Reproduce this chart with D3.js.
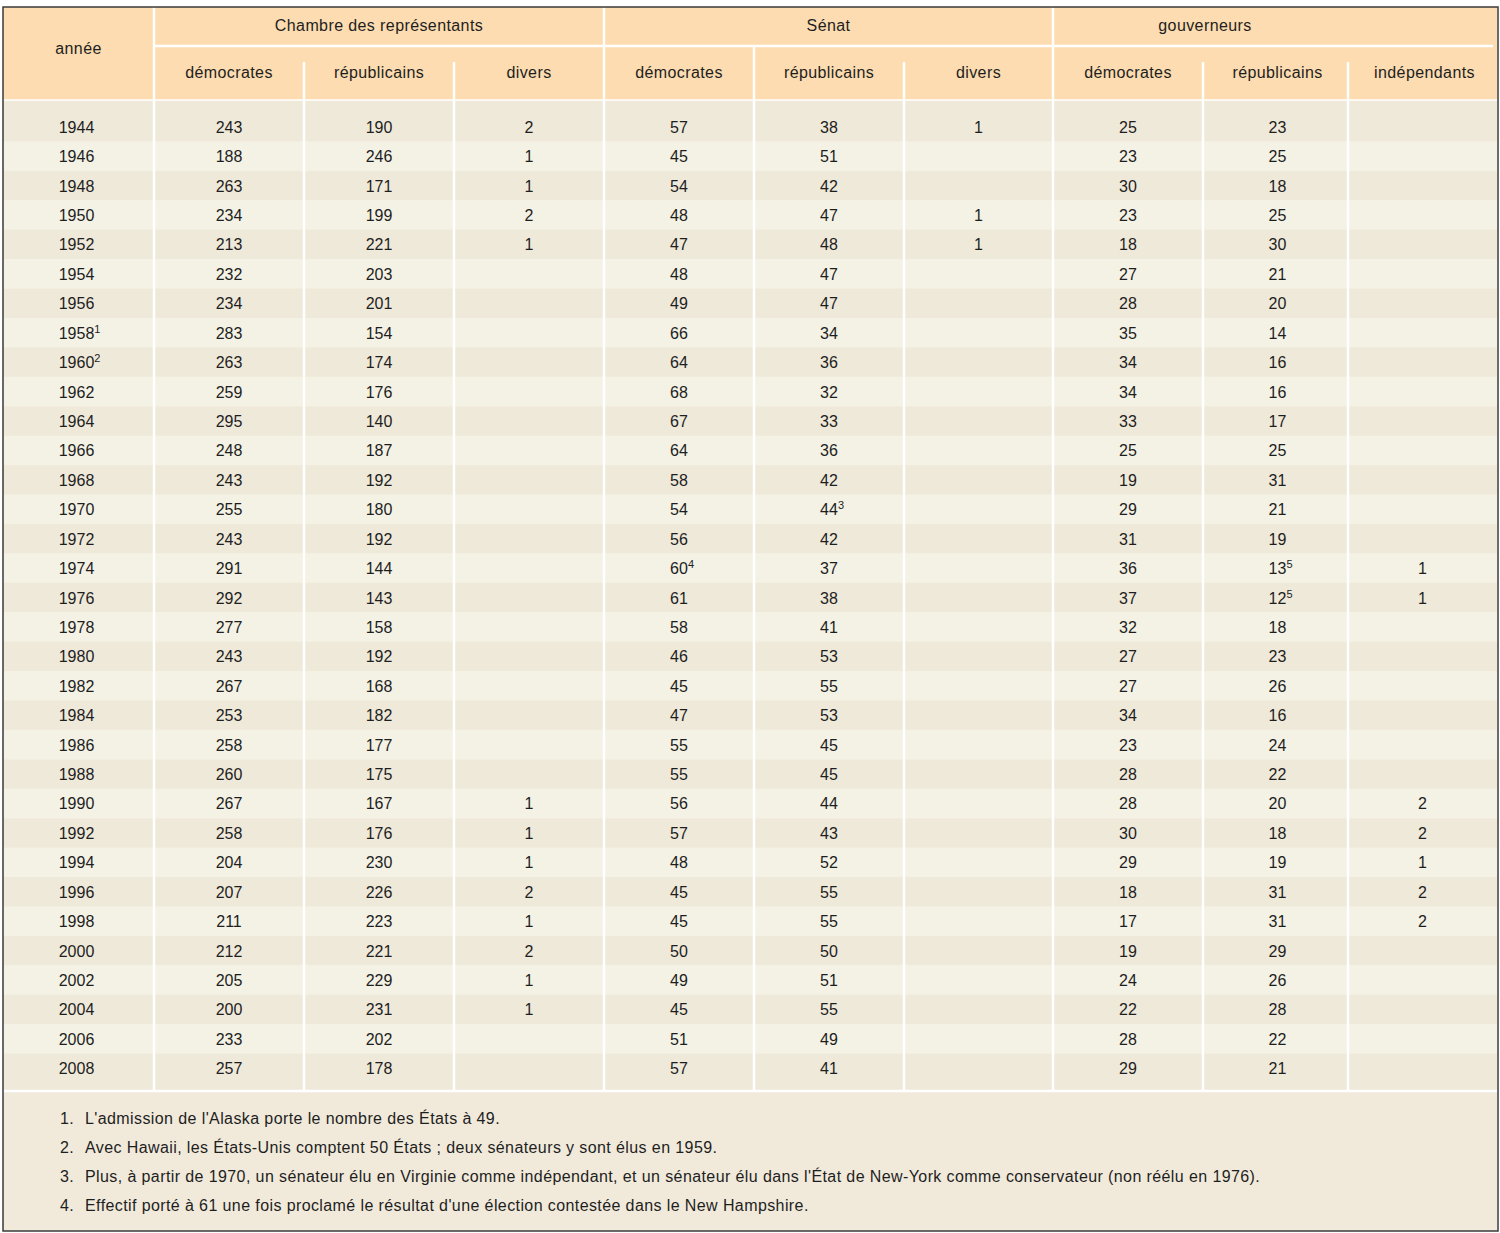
<!DOCTYPE html>
<html><head><meta charset="utf-8">
<script src="https://cdn.jsdelivr.net/npm/d3@7"></script>
<style>
html,body{margin:0;padding:0;background:#fff;}
svg text{font-family:"Liberation Sans",Arial,sans-serif;fill:#1e1e1e;}
.ls{letter-spacing:0.4px;}
</style></head>
<body><svg id="chart" width="1500" height="1233"></svg>
<script>
// ---------- DATA ----------
const years = [1944,1946,1948,1950,1952,1954,1956,1958,1960,1962,1964,1966,1968,1970,1972,1974,1976,1978,1980,1982,1984,1986,1988,1990,1992,1994,1996,1998,2000,2002,2004,2006,2008];
const houseDem = [243,188,263,234,213,232,234,283,263,259,295,248,243,255,243,291,292,277,243,267,253,258,260,267,258,204,207,211,212,205,200,233,257];
const houseRep = [190,246,171,199,221,203,201,154,174,176,140,187,192,180,192,144,143,158,192,168,182,177,175,167,176,230,226,223,221,229,231,202,178];
const houseOther = [2,1,1,2,1,null,null,null,null,null,null,null,null,null,null,null,null,null,null,null,null,null,null,1,1,1,2,1,2,1,1,null,null];
const senDem = [57,45,54,48,47,48,49,66,64,68,67,64,58,54,56,60,61,58,46,45,47,55,55,56,57,48,45,45,50,49,45,51,57];
const senRep = [38,51,42,47,48,47,47,34,36,32,33,36,42,44,42,37,38,41,53,55,53,45,45,44,43,52,55,55,50,51,55,49,41];
const senOther = [1,null,null,1,1,null,null,null,null,null,null,null,null,null,null,null,null,null,null,null,null,null,null,null,null,null,null,null,null,null,null,null,null];
const govDem = [25,23,30,23,18,27,28,35,34,34,33,25,19,29,31,36,37,32,27,27,34,23,28,28,30,29,18,17,19,24,22,28,29];
const govRep = [23,25,18,25,30,21,20,14,16,16,17,25,31,21,19,13,12,18,23,26,16,24,22,20,18,19,31,31,29,26,28,22,21];
const govInd = [null,null,null,null,null,null,null,null,null,null,null,null,null,null,null,1,1,null,null,null,null,null,null,2,2,1,2,2,null,null,null,null,null];
// footnote calls: [year, column key, note number]
const noteCalls = [[1958,"year",1],[1960,"year",2],[1970,"senRep",3],[1974,"senDem",4],[1974,"govRep",5],[1976,"govRep",5]];
const groupLabels = ["Chambre des représentants","Sénat","gouverneurs"];
const subLabels = ["démocrates","républicains","divers","démocrates","républicains","divers","démocrates","républicains","indépendants"];
const footnotes = [
 "L'admission de l'Alaska porte le nombre des États à 49.",
 "Avec Hawaii, les États-Unis comptent 50 États ; deux sénateurs y sont élus en 1959.",
 "Plus, à partir de 1970, un sénateur élu en Virginie comme indépendant, et un sénateur élu dans l'État de New-York comme conservateur (non réélu en 1976).",
 "Effectif porté à 61 une fois proclamé le résultat d'une élection contestée dans le New Hampshire."
];

// ---------- LAYOUT ----------
const colKeys = ["year","houseDem","houseRep","houseOther","senDem","senRep","senOther","govDem","govRep","govInd"];
const series = {houseDem,houseRep,houseOther,senDem,senRep,senOther,govDem,govRep,govInd};
const edges = [3,154,304,454,604,754,904,1053,1203,1348,1497];
const colShift = [-2,0,0,0,0,0,0,0,2,0];
const C = {header:"#fcdcb0", rowA:"#efe9da", rowB:"#f4f2e5", foot:"#f1eadb", line:"#ffffff", border:"#3a3a3a"};
const topY = 7, groupBottom = 46, headBottom = 100, bodyTop = 112, bodyBottom = 1083, tableBottom = 1090, bottomY = 1231;
const FS = 16;

const svg = d3.select("#chart");
const y = d3.scaleBand().domain(years).range([bodyTop, bodyBottom]).paddingInner(0);
const colC = i => (edges[i]+edges[i+1])/2 + colShift[i];

// header background
svg.append("rect").attr("x",edges[0]).attr("y",topY).attr("width",edges[10]-edges[0]).attr("height",headBottom-topY).attr("fill",C.header);

// rows
svg.append("g").selectAll("rect").data(years).join("rect")
  .attr("x",edges[0]).attr("width",edges[10]-edges[0])
  .attr("y",(d,i)=> i===0 ? headBottom : y(d))
  .attr("height",(d,i)=> {
     let y0 = i===0 ? headBottom : y(d);
     let y1 = i===years.length-1 ? tableBottom : y(d)+y.bandwidth();
     return y1-y0+0.5; })
  .attr("fill",(d,i)=> i%2===0 ? C.rowA : C.rowB);

// footnote area
svg.append("rect").attr("x",edges[0]).attr("y",tableBottom).attr("width",edges[10]-edges[0]).attr("height",bottomY-tableBottom).attr("fill",C.foot);

// white lines
const lines = svg.append("g").attr("stroke",C.line).attr("stroke-width",2.5);
lines.append("line").attr("x1",edges[1]).attr("x2",edges[10]-4).attr("y1",groupBottom).attr("y2",groupBottom);
lines.append("line").attr("x1",edges[0]).attr("x2",edges[10]).attr("y1",headBottom).attr("y2",headBottom).attr("stroke-width",1.5);
lines.append("line").attr("x1",edges[0]).attr("x2",edges[10]).attr("y1",tableBottom+1).attr("y2",tableBottom+1).attr("stroke-width",2.5);
// vertical separators
const vsep = [[1,topY],[2,62],[3,62],[4,topY],[5,groupBottom],[6,62],[7,topY],[8,62],[9,62]];
lines.selectAll(".v").data(vsep).join("line")
  .attr("x1",d=>edges[d[0]]).attr("x2",d=>edges[d[0]])
  .attr("y1",d=>d[1]).attr("y2",tableBottom);

// header text
svg.append("text").attr("class","ls").attr("x",(edges[0]+edges[1])/2).attr("y",54).attr("text-anchor","middle").attr("font-size",FS).text("année");
const groupX = [(edges[1]+edges[4])/2,(edges[4]+edges[7])/2,1205];
svg.append("g").selectAll("text").data(groupLabels).join("text").attr("class","ls")
  .attr("x",(d,i)=>groupX[i]).attr("y",31).attr("text-anchor","middle").attr("font-size",FS).text(d=>d);
svg.append("g").selectAll("text").data(subLabels).join("text").attr("class","ls")
  .attr("x",(d,i)=>colC(i+1)+(i===8?2:0)).attr("y",78).attr("text-anchor","middle").attr("font-size",FS).text(d=>d);

// cells
const noteFor = (yr,key)=>{ const n = noteCalls.find(c=>c[0]===yr&&c[1]===key); return n?n[2]:null; };
const body = svg.append("g").attr("font-size",FS);
years.forEach((yr,r)=>{
  colKeys.forEach((key,c)=>{
    const v = key==="year" ? yr : series[key][r];
    if(v===null||v===undefined) return;
    const note = noteFor(yr,key);
    const cx = colC(c);
    const t = body.append("text").attr("y",y(yr)+y.bandwidth()/2+6).attr("font-size",FS);
    if(note){
      const w = String(v).length*8.9;
      t.attr("x",cx-w/2).attr("text-anchor","start");
      t.append("tspan").text(v);
      t.append("tspan").attr("font-size",11).attr("dy",-6).text(note);
    } else {
      t.attr("x",cx).attr("text-anchor","middle").text(v);
    }
  });
});

// footnotes
const fy = d3.scaleBand().domain(d3.range(footnotes.length)).range([1104,1220]);
const fg = svg.append("g").attr("font-size",FS).attr("class","ls");
fg.selectAll(".n").data(footnotes).join("text").attr("class","n").attr("x",60).attr("y",(d,i)=>fy(i)+fy.bandwidth()/2+5).text((d,i)=>(i+1)+".");
fg.selectAll(".t").data(footnotes).join("text").attr("class","t").attr("x",85).attr("y",(d,i)=>fy(i)+fy.bandwidth()/2+5).text(d=>d);

// outer border
svg.append("rect").attr("x",3).attr("y",topY).attr("width",1495).attr("height",bottomY-topY).attr("fill","none").attr("stroke",C.border).attr("stroke-width",1.5);
</script></body></html>
